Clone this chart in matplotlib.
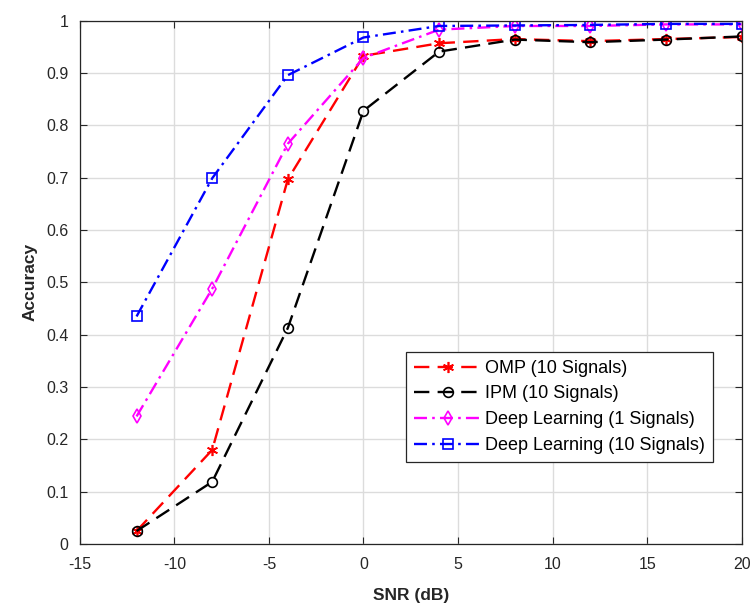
import numpy as np
import matplotlib
matplotlib.use('Agg')
import matplotlib.pyplot as plt

plt.rcParams['font.family'] = ['Liberation Sans', 'DejaVu Sans']
plt.rcParams['axes.unicode_minus'] = False

# SNR values (dB)
snr = [-12, -8, -4, 0, 4, 8, 12, 16, 20]

# accuracy
acc_omp = [0.025, 0.18, 0.697, 0.933, 0.957, 0.965, 0.961, 0.965, 0.969]
acc_ipm = [0.025, 0.119, 0.413, 0.828, 0.941, 0.964, 0.959, 0.964, 0.970]
acc_dl1 = [0.244, 0.488, 0.765, 0.929, 0.983, 0.990, 0.990, 0.993, 0.993]
acc_dl10 = [0.435, 0.699, 0.896, 0.968, 0.990, 0.991, 0.992, 0.994, 0.994]

labels = ['OMP (10 Signals)', 'IPM (10 Signals)',
          'Deep Learning (1 Signals)', 'Deep Learning (10 Signals)']

fig = plt.figure(figsize=(7.53, 6.10), dpi=100)
ax = fig.add_axes([0.106, 0.108, 0.879, 0.858])

lw = 1.7
dashed = (0, (6.5, 3.5))
dashdot = (0, (5.5, 2.2, 1.1, 2.2))
asterisk = (6, 2, 0)
ax.plot(snr, acc_omp, color='red', linestyle=dashed, marker=asterisk,
        markersize=8, markeredgewidth=1.2, linewidth=lw, label=labels[0])
ax.plot(snr, acc_ipm, color='black', linestyle=dashed, marker='o',
        markersize=7, markerfacecolor='none', markeredgewidth=1.2,
        linewidth=lw, label=labels[1])
ax.plot(snr, acc_dl1, color='magenta', linestyle=dashdot, marker='d',
        markersize=7.5, markerfacecolor='none', markeredgewidth=1.2,
        linewidth=lw, label=labels[2])
ax.plot(snr, acc_dl10, color='blue', linestyle=dashdot, marker='s',
        markersize=6.5, markerfacecolor='none', markeredgewidth=1.2,
        linewidth=lw, label=labels[3])

ax.set_xlim(-15, 20)
ax.set_ylim(0, 1)
ax.set_xticks(np.arange(-15, 21, 5))
ax.set_yticks(np.arange(0, 1.01, 0.1))
ax.set_yticklabels(['0', '0.1', '0.2', '0.3', '0.4', '0.5', '0.6', '0.7', '0.8', '0.9', '1'])
ax.grid(True, color='#dcdcdc', linewidth=1)
ax.set_axisbelow(True)
ax.tick_params(direction='in', top=True, right=True, labelsize=11.5,
               colors='#262626', length=5, width=0.8)
ax.tick_params(axis='x', pad=9)
ax.tick_params(axis='y', pad=8)
for s in ax.spines.values():
    s.set_color('#262626')
    s.set_linewidth(0.9)

ax.set_xlabel('SNR (dB)', fontsize=12.5, fontweight='bold', color='#262626', labelpad=12)
ax.set_ylabel('Accuracy', fontsize=12.5, fontweight='bold', color='#262626', labelpad=6)

leg = ax.legend(loc='lower right', bbox_to_anchor=(0.957, 0.157), borderaxespad=0,
                fontsize=13, fancybox=False, framealpha=1, handlelength=3.8,
                handletextpad=0.15, borderpad=0.45, labelspacing=0.48)
leg.get_frame().set_edgecolor('#262626')
leg.get_frame().set_linewidth(0.9)

fig.savefig('out.png', dpi=100)
